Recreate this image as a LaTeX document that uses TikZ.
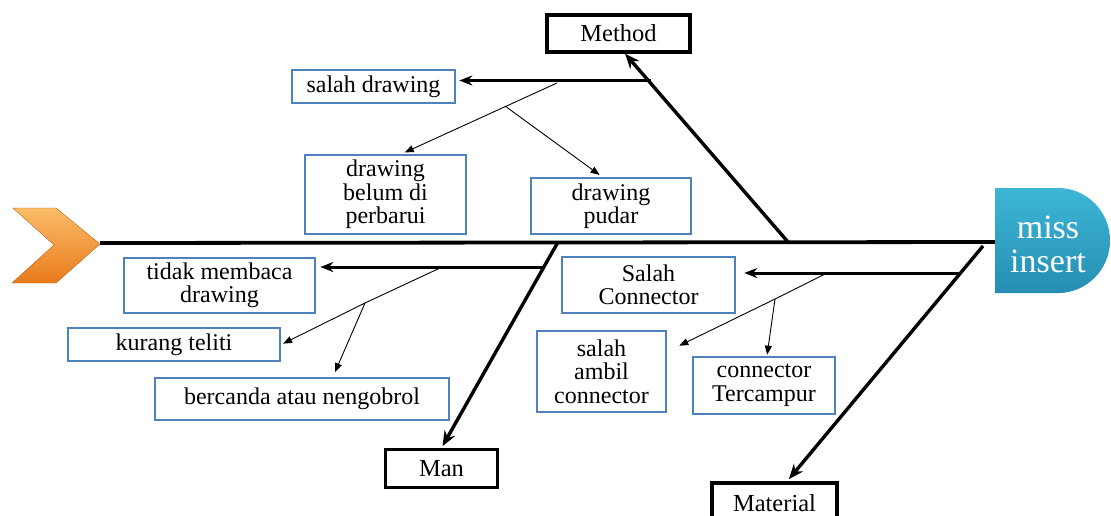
\documentclass[tikz,border=0pt]{standalone}
\usepackage{fontspec}
\setmainfont{Liberation Serif}
\usetikzlibrary{arrows.meta,calc}
\definecolor{boxblue}{RGB}{79,129,189}
\definecolor{headtop}{RGB}{62,182,214}
\definecolor{headbot}{RGB}{36,142,178}
\definecolor{chevtop}{RGB}{251,188,104}
\definecolor{chevbot}{RGB}{232,122,28}
\begin{document}
\begin{tikzpicture}[x=1pt,y=-1pt,
  cause/.style={draw=boxblue,line width=2.6pt,fill=white,align=center,inner sep=0pt,
    font=\fontsize{24}{23.5}\selectfont},
  category/.style={draw=black,line width=3.2pt,fill=white,align=center,inner sep=0pt,
    font=\fontsize{24.5}{24}\selectfont},
  bone/.style={line width=3.4pt,-{Stealth[length=15pt,width=12pt]}},
  twig/.style={line width=3pt,-{Stealth[length=13pt,width=10pt]}},
  thin/.style={line width=0.9pt,-{Triangle[length=9pt,width=7pt]}}]
\clip (0,0) rectangle (1111,515);

% Spine
\coordinate (tail) at (100,243);
\coordinate (neck) at (995,242);
\draw[line width=3.8pt] (tail) -- (neck);

% Tail chevron
\shade[top color=chevtop,bottom color=chevbot,draw=chevbot!80!black,line width=0.4pt]
  (13,208) -- (56,208) -- (100,244) -- (56,283) -- (12,283) -- (54,245) -- cycle;

% Head
\shade[top color=headtop,bottom color=headbot]
  (995,188) -- (1058,188) arc[start angle=-90,end angle=90,x radius=52,y radius=52.5]
  -- (995,293) -- cycle;
\node[text=white,align=center,font=\fontsize{34}{34}\selectfont] (head) at (1048,244) {miss\\insert};

% Categories
\node[category,minimum width=143,minimum height=37] (method) at (618.5,33.5) {Method};
\node[category,minimum width=112,minimum height=38] (man) at (441.5,468.5) {Man};
\node[category,minimum width=125,minimum height=40] (material) at (774.5,503) {Material};

% Causes
\node[cause,minimum width=163,minimum height=33] (salahdrawing) at (373.5,86.5) {salah drawing};
\node[cause,minimum width=161,minimum height=79] (belum) at (385.5,194.5) {drawing\\belum di\\perbarui};
\node[cause,minimum width=160,minimum height=56] (pudar) at (611,206) {drawing\\pudar};
\node[cause,minimum width=191,minimum height=55] (tidak) at (219.5,285.5) {tidak membaca\\drawing};
\node[cause,minimum width=212,minimum height=33] (kurang) at (174,344.5) {kurang teliti};
\node[cause,minimum width=294,minimum height=42] (bercanda) at (302,399) {bercanda atau nengobrol};
\node[cause,minimum width=173,minimum height=56] (salahconn) at (648.5,285) {Salah\\Connector};
\node[cause,minimum width=129,minimum height=81] (ambil) at (601.5,371.5) {salah\\ambil\\connector};
\node[cause,minimum width=142,minimum height=57] (tercampur) at (764,385.5) {connector\\Tercampur};

% Main bones
\coordinate (rootmethod) at (788,242);
\coordinate (rootman) at (558,242);
\coordinate (rootmaterial) at (983,246);
\draw[bone] (rootmethod) -- ([xshift=6.5pt]method.south);
\draw[bone,shorten >=2pt] (rootman) -- (man.north);
\draw[bone,shorten >=3pt] (rootmaterial) -- ([xshift=12.5pt]material.north);

% Sub bones
\coordinate (m1) at (651,80.5);
\coordinate (n1) at (544,267);
\coordinate (t1) at (960,273);
\draw[twig,shorten >=3pt] (m1) -- (salahdrawing.east |- m1);
\draw[twig,shorten >=4pt] (n1) -- (tidak.east |- n1);
\draw[twig,shorten >=8pt] (t1) -- (salahconn.east |- t1);

% Small causes
\coordinate (d1) at (557,83);
\coordinate (d2) at (505,106);
\coordinate (k0) at (440,268);
\coordinate (k1) at (365,303);
\coordinate (c1) at (825,274);
\coordinate (c2) at (775,299);
\draw[thin,shorten >=3pt] (d1) -- ([xshift=16.5pt]belum.north);
\draw[thin,shorten >=3pt] (d2) -- ([xshift=-9pt]pudar.north);
\draw[thin,shorten >=2pt] (k0) -- (k1) -- (kurang.east);
\draw[thin,shorten >=5pt] (k1) -- ([xshift=31pt]bercanda.north);
\draw[thin] (c1) -- (c2) -- ($(ambil.north east)+(12,16)$);
\draw[thin,shorten >=1pt] (c2) -- ([xshift=3pt]tercampur.north);
\end{tikzpicture}
\end{document}
